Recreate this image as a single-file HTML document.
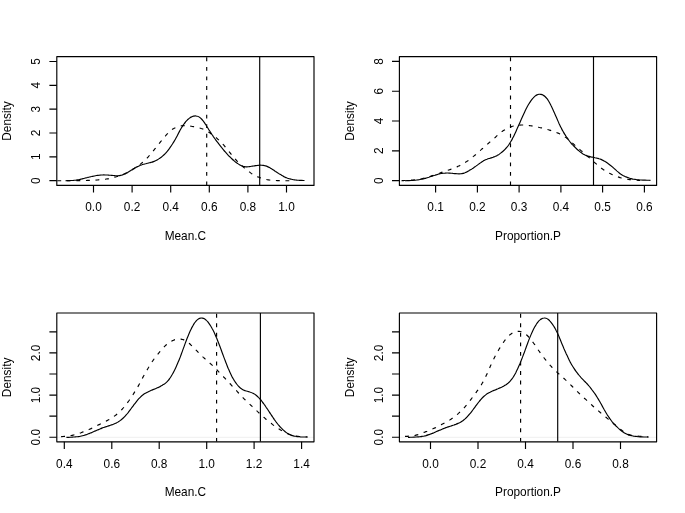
<!DOCTYPE html>
<html lang="en">
<head>
<meta charset="utf-8">
<title>Density plots</title>
<style>
html,body{margin:0;padding:0;background:#fff;}
body{width:685px;height:513px;overflow:hidden;}
svg{display:block;will-change:transform;}
svg text{font-family:"Liberation Sans",Arial,Helvetica,sans-serif;font-size:11.85px;fill:#000;}
.ln{fill:none;stroke:#000;stroke-width:1.15;stroke-linecap:butt;stroke-linejoin:round;}
.ds{stroke-dasharray:3.9 5.65;}
.g0{stroke:#e4e4e4;stroke-width:0.6;fill:none;}
</style>
</head>
<body>
<svg width="685" height="513" viewBox="0 0 685 513">
<rect x="0" y="0" width="685" height="513" fill="#fff"/>
<g id="panel1">
<clipPath id="cp0"><rect x="56.8" y="56.6" width="257.2" height="128.8"/></clipPath>
<g clip-path="url(#cp0)">
<path class="ln" d="M65.5 180.7C65.8 180.7 66.8 180.7 67.5 180.6C68.2 180.6 68.8 180.6 69.5 180.6C70.2 180.6 70.8 180.5 71.5 180.5C72.2 180.5 72.8 180.4 73.5 180.4C74.2 180.3 74.8 180.3 75.5 180.2C76.2 180.1 76.8 180.1 77.5 179.9C78.2 179.8 78.8 179.7 79.5 179.5C80.2 179.4 80.8 179.2 81.5 179.0C82.2 178.9 82.8 178.7 83.5 178.5C84.2 178.3 84.8 178.2 85.5 178.0C86.2 177.8 86.8 177.6 87.5 177.5C88.2 177.3 88.8 177.1 89.5 177.0C90.2 176.8 90.8 176.6 91.5 176.5C92.2 176.3 92.8 176.2 93.5 176.1C94.2 175.9 94.8 175.8 95.5 175.7C96.2 175.6 96.8 175.5 97.5 175.4C98.2 175.3 98.8 175.2 99.5 175.2C100.2 175.1 100.8 175.0 101.5 175.0C102.2 175.0 102.8 174.9 103.5 174.9C104.2 174.9 104.8 174.9 105.5 175.0C106.2 175.0 106.8 175.0 107.5 175.0C108.2 175.1 108.8 175.1 109.5 175.2C110.2 175.2 110.8 175.3 111.5 175.3C112.2 175.4 112.8 175.5 113.5 175.5C114.2 175.6 114.8 175.6 115.5 175.7C116.2 175.7 116.8 175.8 117.5 175.7C118.2 175.7 118.8 175.7 119.5 175.6C120.2 175.5 120.8 175.3 121.5 175.2C122.2 175.0 122.8 174.8 123.5 174.5C124.2 174.2 124.8 173.9 125.5 173.6C126.2 173.3 126.8 172.9 127.5 172.6C128.2 172.2 128.8 171.8 129.5 171.3C130.2 170.9 130.8 170.5 131.5 170.0C132.2 169.6 132.8 169.1 133.5 168.7C134.2 168.3 134.8 167.9 135.5 167.6C136.2 167.2 136.8 166.9 137.5 166.6C138.2 166.3 138.8 166.0 139.5 165.7C140.2 165.4 140.8 165.2 141.5 165.0C142.2 164.7 142.8 164.5 143.5 164.3C144.2 164.1 144.8 163.9 145.5 163.8C146.2 163.6 146.8 163.5 147.5 163.3C148.2 163.1 148.8 163.0 149.5 162.8C150.2 162.7 150.8 162.5 151.5 162.3C152.2 162.1 152.8 161.9 153.5 161.6C154.2 161.4 154.8 161.1 155.5 160.8C156.2 160.5 156.8 160.1 157.5 159.7C158.2 159.3 158.8 158.9 159.5 158.4C160.2 158.0 160.8 157.5 161.5 157.0C162.2 156.4 162.8 155.9 163.5 155.3C164.2 154.7 164.8 154.1 165.5 153.4C166.2 152.6 166.8 151.9 167.5 151.0C168.2 150.2 168.8 149.3 169.5 148.4C170.2 147.4 170.8 146.5 171.5 145.5C172.2 144.5 172.8 143.5 173.5 142.4C174.2 141.3 174.8 140.2 175.5 139.0C176.2 137.8 176.8 136.5 177.5 135.2C178.2 134.0 178.8 132.6 179.5 131.4C180.2 130.2 180.8 129.0 181.5 127.8C182.2 126.7 182.8 125.7 183.5 124.7C184.2 123.7 184.8 122.8 185.5 122.0C186.2 121.2 186.8 120.5 187.5 119.8C188.2 119.2 188.8 118.6 189.5 118.1C190.2 117.6 190.8 117.2 191.5 116.9C192.2 116.5 192.8 116.3 193.5 116.1C194.2 116.0 194.8 115.9 195.5 115.9C196.2 116.0 196.8 116.0 197.5 116.3C198.2 116.5 198.8 116.8 199.5 117.3C200.2 117.7 200.8 118.3 201.5 119.0C202.2 119.7 202.8 120.6 203.5 121.4C204.2 122.3 204.8 123.3 205.5 124.3C206.2 125.4 206.8 126.5 207.5 127.5C208.2 128.6 208.8 129.7 209.5 130.7C210.2 131.8 210.8 132.8 211.5 133.8C212.2 134.8 212.8 135.8 213.5 136.8C214.2 137.7 214.8 138.7 215.5 139.6C216.2 140.5 216.8 141.4 217.5 142.2C218.2 143.1 218.8 144.0 219.5 144.8C220.2 145.7 220.8 146.5 221.5 147.4C222.2 148.2 222.8 149.0 223.5 149.8C224.2 150.7 224.8 151.4 225.5 152.2C226.2 153.0 226.8 153.7 227.5 154.4C228.2 155.2 228.8 155.9 229.5 156.5C230.2 157.2 230.8 157.9 231.5 158.5C232.2 159.1 232.8 159.8 233.5 160.3C234.2 160.9 234.8 161.5 235.5 162.0C236.2 162.5 236.8 163.0 237.5 163.4C238.2 163.9 238.8 164.3 239.5 164.7C240.2 165.1 240.8 165.5 241.5 165.8C242.2 166.1 242.8 166.3 243.5 166.5C244.2 166.6 244.8 166.7 245.5 166.8C246.2 166.8 246.8 166.8 247.5 166.8C248.2 166.7 248.8 166.7 249.5 166.6C250.2 166.5 250.8 166.4 251.5 166.3C252.2 166.2 252.8 166.1 253.5 166.0C254.2 165.9 254.8 165.8 255.5 165.6C256.2 165.5 256.8 165.4 257.5 165.4C258.2 165.3 258.8 165.2 259.5 165.2C260.2 165.1 260.8 165.1 261.5 165.2C262.2 165.2 262.8 165.3 263.5 165.4C264.2 165.5 264.8 165.7 265.5 165.9C266.2 166.1 266.8 166.3 267.5 166.6C268.2 166.9 268.8 167.2 269.5 167.6C270.2 168.0 270.8 168.4 271.5 168.8C272.2 169.2 272.8 169.6 273.5 170.0C274.2 170.5 274.8 170.9 275.5 171.4C276.2 171.8 276.8 172.3 277.5 172.7C278.2 173.1 278.8 173.6 279.5 174.0C280.2 174.4 280.8 174.8 281.5 175.2C282.2 175.6 282.8 176.0 283.5 176.4C284.2 176.7 284.8 177.1 285.5 177.4C286.2 177.7 286.8 177.9 287.5 178.2C288.2 178.4 288.8 178.6 289.5 178.8C290.2 179.0 290.8 179.2 291.5 179.3C292.2 179.5 292.8 179.6 293.5 179.7C294.2 179.8 294.8 179.9 295.5 180.0C296.2 180.1 296.8 180.1 297.5 180.2C298.2 180.2 298.8 180.3 299.5 180.3C300.2 180.3 300.8 180.4 301.5 180.4C302.2 180.4 303.0 180.4 303.5 180.5C304.0 180.5 304.3 180.5 304.5 180.5"/>
<path class="ln ds" d="M57.3 180.7C57.6 180.7 58.6 180.7 59.3 180.7C60.0 180.7 60.6 180.7 61.3 180.7C62.0 180.7 62.6 180.7 63.3 180.7C64.0 180.7 64.6 180.7 65.3 180.7C66.0 180.7 66.6 180.7 67.3 180.7C68.0 180.7 68.6 180.7 69.3 180.7C70.0 180.7 70.6 180.7 71.3 180.7C72.0 180.7 72.6 180.7 73.3 180.7C74.0 180.7 74.6 180.7 75.3 180.7C76.0 180.7 76.6 180.6 77.3 180.6C78.0 180.6 78.6 180.6 79.3 180.6C80.0 180.6 80.6 180.6 81.3 180.6C82.0 180.6 82.6 180.6 83.3 180.5C84.0 180.5 84.6 180.5 85.3 180.5C86.0 180.5 86.6 180.4 87.3 180.4C88.0 180.4 88.6 180.4 89.3 180.3C90.0 180.3 90.6 180.3 91.3 180.3C92.0 180.2 92.6 180.2 93.3 180.2C94.0 180.1 94.6 180.1 95.3 180.1C96.0 180.0 96.6 180.0 97.3 180.0C98.0 179.9 98.6 179.9 99.3 179.8C100.0 179.8 100.6 179.7 101.3 179.7C102.0 179.6 102.6 179.6 103.3 179.5C104.0 179.4 104.6 179.3 105.3 179.2C106.0 179.1 106.6 179.0 107.3 178.9C108.0 178.8 108.6 178.7 109.3 178.5C110.0 178.4 110.6 178.2 111.3 178.1C112.0 177.9 112.6 177.7 113.3 177.5C114.0 177.4 114.6 177.2 115.3 177.0C116.0 176.8 116.6 176.7 117.3 176.5C118.0 176.3 118.6 176.1 119.3 175.9C120.0 175.7 120.6 175.4 121.3 175.2C122.0 175.0 122.6 174.7 123.3 174.4C124.0 174.2 124.6 173.9 125.3 173.6C126.0 173.3 126.6 172.9 127.3 172.6C128.0 172.3 128.6 171.9 129.3 171.5C130.0 171.2 130.6 170.8 131.3 170.4C132.0 170.0 132.6 169.5 133.3 169.1C134.0 168.7 134.6 168.2 135.3 167.8C136.0 167.3 136.6 166.9 137.3 166.4C138.0 165.9 138.6 165.4 139.3 165.0C140.0 164.5 140.6 164.0 141.3 163.4C142.0 162.9 142.6 162.3 143.3 161.7C144.0 161.1 144.6 160.5 145.3 159.9C146.0 159.2 146.6 158.5 147.3 157.8C148.0 157.2 148.6 156.4 149.3 155.7C150.0 154.9 150.6 154.2 151.3 153.4C152.0 152.6 152.6 151.8 153.3 150.9C154.0 150.1 154.6 149.2 155.3 148.4C156.0 147.6 156.6 146.7 157.3 145.9C158.0 145.0 158.6 144.2 159.3 143.3C160.0 142.5 160.6 141.6 161.3 140.8C162.0 139.9 162.6 139.1 163.3 138.3C164.0 137.6 164.6 136.8 165.3 136.1C166.0 135.3 166.6 134.6 167.3 133.9C168.0 133.2 168.6 132.6 169.3 132.0C170.0 131.3 170.6 130.8 171.3 130.2C172.0 129.7 172.6 129.2 173.3 128.8C174.0 128.4 174.6 128.0 175.3 127.7C176.0 127.3 176.6 127.1 177.3 126.8C178.0 126.6 178.6 126.4 179.3 126.2C180.0 126.0 180.6 125.9 181.3 125.8C182.0 125.7 182.6 125.6 183.3 125.6C184.0 125.6 184.6 125.6 185.3 125.6C186.0 125.6 186.6 125.7 187.3 125.7C188.0 125.8 188.6 125.9 189.3 126.0C190.0 126.1 190.6 126.2 191.3 126.3C192.0 126.4 192.6 126.5 193.3 126.6C194.0 126.7 194.6 126.8 195.3 127.0C196.0 127.1 196.6 127.2 197.3 127.4C198.0 127.5 198.6 127.7 199.3 127.9C200.0 128.0 200.6 128.2 201.3 128.5C202.0 128.7 202.6 129.0 203.3 129.3C204.0 129.6 204.6 129.9 205.3 130.2C206.0 130.6 206.6 131.0 207.3 131.4C208.0 131.7 208.6 132.2 209.3 132.6C210.0 133.0 210.6 133.5 211.3 133.9C212.0 134.4 212.6 134.9 213.3 135.4C214.0 135.9 214.6 136.4 215.3 137.0C216.0 137.5 216.6 138.1 217.3 138.7C218.0 139.3 218.6 139.9 219.3 140.5C220.0 141.2 220.6 141.8 221.3 142.5C222.0 143.2 222.6 144.0 223.3 144.7C224.0 145.4 224.6 146.2 225.3 147.0C226.0 147.8 226.6 148.6 227.3 149.4C228.0 150.2 228.6 151.1 229.3 151.9C230.0 152.7 230.6 153.6 231.3 154.4C232.0 155.2 232.6 156.0 233.3 156.8C234.0 157.6 234.6 158.4 235.3 159.1C236.0 159.9 236.6 160.6 237.3 161.3C238.0 162.0 238.6 162.7 239.3 163.3C240.0 164.0 240.6 164.6 241.3 165.2C242.0 165.8 242.6 166.4 243.3 167.0C244.0 167.6 244.6 168.1 245.3 168.7C246.0 169.3 246.6 169.8 247.3 170.4C248.0 170.9 248.6 171.4 249.3 171.9C250.0 172.4 250.6 172.9 251.3 173.4C252.0 173.8 252.6 174.3 253.3 174.6C254.0 175.0 254.6 175.4 255.3 175.7C256.0 176.0 256.6 176.3 257.3 176.6C258.0 176.9 258.6 177.1 259.3 177.4C260.0 177.6 260.6 177.9 261.3 178.1C262.0 178.4 262.6 178.6 263.3 178.8C264.0 179.0 264.6 179.2 265.3 179.3C266.0 179.5 266.6 179.6 267.3 179.7C268.0 179.8 268.6 179.9 269.3 180.0C270.0 180.0 270.6 180.1 271.3 180.2C272.0 180.2 272.6 180.3 273.3 180.3C274.0 180.4 274.6 180.4 275.3 180.5C276.0 180.5 276.6 180.5 277.3 180.6C278.0 180.6 278.6 180.6 279.3 180.6C280.0 180.6 280.6 180.6 281.3 180.6C282.0 180.7 282.6 180.7 283.3 180.7C284.0 180.7 284.6 180.7 285.3 180.7C286.0 180.7 286.6 180.7 287.3 180.7C288.0 180.7 288.6 180.7 289.3 180.7C290.0 180.7 290.9 180.7 291.3 180.7C291.7 180.7 291.7 180.7 291.8 180.7"/>
<path class="ln ds" d="M206.7 185.4 V56.6"/>
<path class="ln" d="M259.7 185.4 V56.6"/>
</g>
<rect class="ln" x="56.8" y="56.6" width="257.2" height="128.8"/>
<path class="ln" d="M93.5 185.4v7.1M132.1 185.4v7.1M170.7 185.4v7.1M209.3 185.4v7.1M247.9 185.4v7.1M286.5 185.4v7.1M56.8 180.6h-7.4M56.8 156.8h-7.4M56.8 133.0h-7.4M56.8 109.1h-7.4M56.8 85.3h-7.4M56.8 61.5h-7.4"/>
<text x="93.5" y="211.3" text-anchor="middle">0.0</text>
<text x="132.1" y="211.3" text-anchor="middle">0.2</text>
<text x="170.7" y="211.3" text-anchor="middle">0.4</text>
<text x="209.3" y="211.3" text-anchor="middle">0.6</text>
<text x="247.9" y="211.3" text-anchor="middle">0.8</text>
<text x="286.5" y="211.3" text-anchor="middle">1.0</text>
<text transform="translate(39.9 180.6) rotate(-90)" text-anchor="middle">0</text>
<text transform="translate(39.9 156.8) rotate(-90)" text-anchor="middle">1</text>
<text transform="translate(39.9 133.0) rotate(-90)" text-anchor="middle">2</text>
<text transform="translate(39.9 109.1) rotate(-90)" text-anchor="middle">3</text>
<text transform="translate(39.9 85.3) rotate(-90)" text-anchor="middle">4</text>
<text transform="translate(39.9 61.5) rotate(-90)" text-anchor="middle">5</text>
<text x="185.4" y="239.5" text-anchor="middle">Mean.C</text>
<text transform="translate(11.4 121.0) rotate(-90)" text-anchor="middle">Density</text>
</g>
<g id="panel2">
<clipPath id="cp1"><rect x="399.4" y="56.6" width="257.2" height="128.8"/></clipPath>
<g clip-path="url(#cp1)">
<path class="ln" d="M405.0 180.7C405.3 180.7 406.3 180.7 407.0 180.6C407.7 180.6 408.3 180.6 409.0 180.6C409.7 180.5 410.3 180.5 411.0 180.5C411.7 180.5 412.3 180.4 413.0 180.4C413.7 180.3 414.3 180.3 415.0 180.2C415.7 180.2 416.3 180.1 417.0 180.0C417.7 179.9 418.3 179.8 419.0 179.7C419.7 179.6 420.3 179.5 421.0 179.3C421.7 179.2 422.3 179.1 423.0 178.9C423.7 178.7 424.3 178.6 425.0 178.4C425.7 178.2 426.3 178.0 427.0 177.8C427.7 177.6 428.3 177.4 429.0 177.2C429.7 176.9 430.3 176.7 431.0 176.5C431.7 176.3 432.3 176.1 433.0 175.8C433.7 175.6 434.3 175.4 435.0 175.2C435.7 175.0 436.3 174.8 437.0 174.6C437.7 174.4 438.3 174.2 439.0 174.0C439.7 173.8 440.3 173.7 441.0 173.5C441.7 173.4 442.3 173.3 443.0 173.2C443.7 173.1 444.3 173.1 445.0 173.1C445.7 173.0 446.3 173.0 447.0 173.0C447.7 173.0 448.3 173.1 449.0 173.1C449.7 173.1 450.3 173.2 451.0 173.2C451.7 173.3 452.3 173.3 453.0 173.4C453.7 173.4 454.3 173.5 455.0 173.6C455.7 173.6 456.3 173.7 457.0 173.7C457.7 173.8 458.3 173.8 459.0 173.8C459.7 173.8 460.3 173.8 461.0 173.7C461.7 173.7 462.3 173.6 463.0 173.4C463.7 173.2 464.3 173.0 465.0 172.8C465.7 172.5 466.3 172.2 467.0 171.9C467.7 171.5 468.3 171.1 469.0 170.7C469.7 170.3 470.3 169.9 471.0 169.5C471.7 169.1 472.3 168.6 473.0 168.2C473.7 167.7 474.3 167.3 475.0 166.8C475.7 166.3 476.3 165.9 477.0 165.4C477.7 164.9 478.3 164.4 479.0 163.9C479.7 163.4 480.3 162.9 481.0 162.5C481.7 162.0 482.3 161.6 483.0 161.2C483.7 160.8 484.3 160.4 485.0 160.0C485.7 159.7 486.3 159.4 487.0 159.2C487.7 158.9 488.3 158.7 489.0 158.5C489.7 158.3 490.3 158.1 491.0 157.9C491.7 157.7 492.3 157.5 493.0 157.3C493.7 157.0 494.3 156.8 495.0 156.5C495.7 156.3 496.3 155.9 497.0 155.6C497.7 155.2 498.3 154.8 499.0 154.4C499.7 153.9 500.3 153.4 501.0 152.9C501.7 152.4 502.3 151.8 503.0 151.2C503.7 150.6 504.3 150.0 505.0 149.3C505.7 148.6 506.3 147.9 507.0 147.1C507.7 146.3 508.3 145.5 509.0 144.5C509.7 143.5 510.3 142.5 511.0 141.3C511.7 140.2 512.3 138.9 513.0 137.6C513.7 136.3 514.3 134.9 515.0 133.5C515.7 132.1 516.3 130.6 517.0 129.1C517.7 127.6 518.3 126.1 519.0 124.6C519.7 123.1 520.3 121.6 521.0 120.0C521.7 118.5 522.3 117.0 523.0 115.5C523.7 114.0 524.3 112.6 525.0 111.2C525.7 109.8 526.3 108.5 527.0 107.2C527.7 106.0 528.3 104.8 529.0 103.7C529.7 102.6 530.3 101.6 531.0 100.6C531.7 99.7 532.3 98.8 533.0 98.1C533.7 97.3 534.3 96.7 535.0 96.1C535.7 95.6 536.3 95.2 537.0 94.9C537.7 94.6 538.3 94.4 539.0 94.3C539.7 94.2 540.3 94.3 541.0 94.4C541.7 94.5 542.3 94.7 543.0 95.1C543.7 95.4 544.3 95.9 545.0 96.5C545.7 97.1 546.3 97.8 547.0 98.7C547.7 99.6 548.3 100.7 549.0 101.8C549.7 103.0 550.3 104.2 551.0 105.6C551.7 106.9 552.3 108.3 553.0 109.7C553.7 111.2 554.3 112.7 555.0 114.2C555.7 115.7 556.3 117.3 557.0 118.8C557.7 120.3 558.3 121.9 559.0 123.4C559.7 124.8 560.3 126.3 561.0 127.6C561.7 128.9 562.3 130.2 563.0 131.3C563.7 132.5 564.3 133.6 565.0 134.7C565.7 135.7 566.3 136.8 567.0 137.7C567.7 138.7 568.3 139.6 569.0 140.5C569.7 141.4 570.3 142.2 571.0 143.0C571.7 143.8 572.3 144.5 573.0 145.2C573.7 145.9 574.3 146.6 575.0 147.3C575.7 147.9 576.3 148.6 577.0 149.2C577.7 149.8 578.3 150.4 579.0 150.9C579.7 151.5 580.3 152.0 581.0 152.5C581.7 153.0 582.3 153.4 583.0 153.9C583.7 154.3 584.3 154.6 585.0 155.0C585.7 155.3 586.3 155.5 587.0 155.8C587.7 156.0 588.3 156.2 589.0 156.4C589.7 156.6 590.3 156.7 591.0 156.9C591.7 157.0 592.3 157.2 593.0 157.3C593.7 157.4 594.3 157.5 595.0 157.7C595.7 157.8 596.3 157.9 597.0 158.1C597.7 158.2 598.3 158.4 599.0 158.7C599.7 158.9 600.3 159.1 601.0 159.4C601.7 159.7 602.3 160.0 603.0 160.4C603.7 160.7 604.3 161.1 605.0 161.4C605.7 161.8 606.3 162.3 607.0 162.7C607.7 163.2 608.3 163.7 609.0 164.2C609.7 164.7 610.3 165.2 611.0 165.8C611.7 166.3 612.3 166.9 613.0 167.5C613.7 168.1 614.3 168.7 615.0 169.3C615.7 169.9 616.3 170.5 617.0 171.1C617.7 171.6 618.3 172.2 619.0 172.7C619.7 173.3 620.3 173.8 621.0 174.3C621.7 174.7 622.3 175.1 623.0 175.5C623.7 175.8 624.3 176.2 625.0 176.5C625.7 176.8 626.3 177.0 627.0 177.3C627.7 177.6 628.3 177.8 629.0 178.0C629.7 178.3 630.3 178.4 631.0 178.6C631.7 178.8 632.3 178.9 633.0 179.1C633.7 179.2 634.3 179.3 635.0 179.4C635.7 179.5 636.3 179.6 637.0 179.7C637.7 179.8 638.3 179.8 639.0 179.9C639.7 179.9 640.3 179.9 641.0 180.0C641.7 180.0 642.3 180.0 643.0 180.1C643.7 180.1 644.3 180.1 645.0 180.1C645.7 180.2 646.3 180.2 647.0 180.2C647.7 180.2 648.4 180.2 649.0 180.2C649.6 180.3 650.2 180.3 650.5 180.3"/>
<path class="ln ds" d="M401.5 180.7C401.8 180.7 402.8 180.6 403.5 180.6C404.2 180.6 404.8 180.5 405.5 180.5C406.2 180.5 406.8 180.4 407.5 180.4C408.2 180.3 408.8 180.3 409.5 180.3C410.2 180.2 410.8 180.2 411.5 180.1C412.2 180.1 412.8 180.0 413.5 180.0C414.2 179.9 414.8 179.9 415.5 179.8C416.2 179.7 416.8 179.6 417.5 179.5C418.2 179.4 418.8 179.3 419.5 179.2C420.2 179.1 420.8 178.9 421.5 178.8C422.2 178.6 422.8 178.5 423.5 178.3C424.2 178.1 424.8 177.9 425.5 177.8C426.2 177.6 426.8 177.4 427.5 177.2C428.2 177.0 428.8 176.8 429.5 176.6C430.2 176.4 430.8 176.1 431.5 175.9C432.2 175.7 432.8 175.5 433.5 175.3C434.2 175.0 434.8 174.8 435.5 174.6C436.2 174.3 436.8 174.1 437.5 173.9C438.2 173.6 438.8 173.4 439.5 173.2C440.2 172.9 440.8 172.7 441.5 172.4C442.2 172.2 442.8 172.0 443.5 171.8C444.2 171.5 444.8 171.3 445.5 171.1C446.2 170.8 446.8 170.6 447.5 170.4C448.2 170.2 448.8 169.9 449.5 169.7C450.2 169.5 450.8 169.2 451.5 169.0C452.2 168.7 452.8 168.5 453.5 168.2C454.2 168.0 454.8 167.7 455.5 167.5C456.2 167.2 456.8 166.9 457.5 166.6C458.2 166.4 458.8 166.0 459.5 165.7C460.2 165.4 460.8 165.0 461.5 164.7C462.2 164.3 462.8 163.9 463.5 163.5C464.2 163.1 464.8 162.7 465.5 162.3C466.2 161.9 466.8 161.4 467.5 161.0C468.2 160.5 468.8 160.0 469.5 159.5C470.2 159.0 470.8 158.5 471.5 158.0C472.2 157.5 472.8 156.9 473.5 156.4C474.2 155.8 474.8 155.2 475.5 154.7C476.2 154.1 476.8 153.5 477.5 153.0C478.2 152.4 478.8 151.8 479.5 151.2C480.2 150.6 480.8 150.0 481.5 149.4C482.2 148.8 482.8 148.2 483.5 147.6C484.2 147.0 484.8 146.4 485.5 145.8C486.2 145.2 486.8 144.6 487.5 144.1C488.2 143.5 488.8 143.0 489.5 142.4C490.2 141.8 490.8 141.3 491.5 140.7C492.2 140.2 492.8 139.6 493.5 139.0C494.2 138.4 494.8 137.8 495.5 137.2C496.2 136.6 496.8 136.0 497.5 135.3C498.2 134.7 498.8 134.1 499.5 133.5C500.2 133.0 500.8 132.4 501.5 131.9C502.2 131.5 502.8 131.0 503.5 130.6C504.2 130.2 504.8 129.8 505.5 129.4C506.2 129.0 506.8 128.7 507.5 128.3C508.2 128.0 508.8 127.7 509.5 127.4C510.2 127.1 510.8 126.9 511.5 126.6C512.2 126.4 512.8 126.2 513.5 126.0C514.2 125.9 514.8 125.7 515.5 125.6C516.2 125.5 516.8 125.4 517.5 125.3C518.2 125.2 518.8 125.1 519.5 125.1C520.2 125.0 520.8 125.0 521.5 125.0C522.2 125.0 522.8 125.0 523.5 125.0C524.2 125.0 524.8 125.1 525.5 125.1C526.2 125.2 526.8 125.2 527.5 125.3C528.2 125.4 528.8 125.5 529.5 125.6C530.2 125.7 530.8 125.8 531.5 125.9C532.2 126.0 532.8 126.1 533.5 126.2C534.2 126.4 534.8 126.5 535.5 126.6C536.2 126.8 536.8 126.9 537.5 127.0C538.2 127.2 538.8 127.3 539.5 127.5C540.2 127.6 540.8 127.8 541.5 127.9C542.2 128.1 542.8 128.3 543.5 128.4C544.2 128.6 544.8 128.8 545.5 129.0C546.2 129.2 546.8 129.3 547.5 129.5C548.2 129.7 548.8 129.9 549.5 130.1C550.2 130.3 550.8 130.5 551.5 130.7C552.2 130.9 552.8 131.1 553.5 131.3C554.2 131.6 554.8 131.8 555.5 132.1C556.2 132.3 556.8 132.6 557.5 132.9C558.2 133.1 558.8 133.4 559.5 133.7C560.2 134.1 560.8 134.4 561.5 134.8C562.2 135.1 562.8 135.5 563.5 136.0C564.2 136.4 564.8 136.8 565.5 137.3C566.2 137.7 566.8 138.2 567.5 138.7C568.2 139.2 568.8 139.8 569.5 140.4C570.2 140.9 570.8 141.6 571.5 142.2C572.2 142.8 572.8 143.4 573.5 144.0C574.2 144.6 574.8 145.2 575.5 145.8C576.2 146.4 576.8 147.0 577.5 147.6C578.2 148.1 578.8 148.7 579.5 149.3C580.2 149.9 580.8 150.5 581.5 151.0C582.2 151.6 582.8 152.2 583.5 152.8C584.2 153.4 584.8 153.9 585.5 154.5C586.2 155.1 586.8 155.7 587.5 156.3C588.2 156.8 588.8 157.4 589.5 158.0C590.2 158.6 590.8 159.2 591.5 159.8C592.2 160.3 592.8 160.9 593.5 161.5C594.2 162.1 594.8 162.7 595.5 163.2C596.2 163.8 596.8 164.4 597.5 165.0C598.2 165.5 598.8 166.1 599.5 166.7C600.2 167.2 600.8 167.8 601.5 168.3C602.2 168.8 602.8 169.3 603.5 169.7C604.2 170.2 604.8 170.6 605.5 171.1C606.2 171.5 606.8 171.9 607.5 172.2C608.2 172.6 608.8 173.0 609.5 173.3C610.2 173.7 610.8 174.0 611.5 174.3C612.2 174.6 612.8 174.9 613.5 175.2C614.2 175.5 614.8 175.7 615.5 176.0C616.2 176.3 616.8 176.5 617.5 176.7C618.2 177.0 618.8 177.2 619.5 177.4C620.2 177.6 620.8 177.8 621.5 178.0C622.2 178.2 622.8 178.3 623.5 178.5C624.2 178.7 624.8 178.8 625.5 179.0C626.2 179.1 626.8 179.2 627.5 179.3C628.2 179.4 628.8 179.5 629.5 179.6C630.2 179.7 630.8 179.8 631.5 179.8C632.2 179.9 632.8 180.0 633.5 180.0C634.2 180.1 634.8 180.1 635.5 180.2C636.2 180.2 636.8 180.2 637.5 180.3C638.2 180.3 639.1 180.3 639.5 180.3C639.9 180.4 639.9 180.4 640.0 180.4"/>
<path class="ln ds" d="M510.5 185.4 V56.6"/>
<path class="ln" d="M593.5 185.4 V56.6"/>
</g>
<rect class="ln" x="399.4" y="56.6" width="257.2" height="128.8"/>
<path class="ln" d="M435.6 185.4v7.1M477.4 185.4v7.1M519.1 185.4v7.1M560.9 185.4v7.1M602.6 185.4v7.1M644.4 185.4v7.1M399.4 180.6h-7.4M399.4 150.8h-7.4M399.4 121.0h-7.4M399.4 91.2h-7.4M399.4 61.4h-7.4"/>
<text x="435.6" y="211.3" text-anchor="middle">0.1</text>
<text x="477.4" y="211.3" text-anchor="middle">0.2</text>
<text x="519.1" y="211.3" text-anchor="middle">0.3</text>
<text x="560.9" y="211.3" text-anchor="middle">0.4</text>
<text x="602.6" y="211.3" text-anchor="middle">0.5</text>
<text x="644.4" y="211.3" text-anchor="middle">0.6</text>
<text transform="translate(382.5 180.6) rotate(-90)" text-anchor="middle">0</text>
<text transform="translate(382.5 150.8) rotate(-90)" text-anchor="middle">2</text>
<text transform="translate(382.5 121.0) rotate(-90)" text-anchor="middle">4</text>
<text transform="translate(382.5 91.2) rotate(-90)" text-anchor="middle">6</text>
<text transform="translate(382.5 61.4) rotate(-90)" text-anchor="middle">8</text>
<text x="528.0" y="239.5" text-anchor="middle">Proportion.P</text>
<text transform="translate(354.0 121.0) rotate(-90)" text-anchor="middle">Density</text>
</g>
<g id="panel3">
<clipPath id="cp2"><rect x="56.8" y="313.0" width="257.2" height="128.8"/></clipPath>
<path class="g0" d="M56.8 437.3 H314.0"/>
<g clip-path="url(#cp2)">
<path class="ln" d="M66.4 437.4C66.7 437.4 67.7 437.3 68.4 437.3C69.1 437.3 69.7 437.3 70.4 437.2C71.1 437.2 71.7 437.2 72.4 437.1C73.1 437.1 73.7 437.0 74.4 437.0C75.1 436.9 75.7 436.9 76.4 436.8C77.1 436.7 77.7 436.7 78.4 436.6C79.1 436.5 79.7 436.4 80.4 436.2C81.1 436.1 81.7 436.0 82.4 435.8C83.1 435.6 83.7 435.4 84.4 435.2C85.1 435.0 85.7 434.8 86.4 434.6C87.1 434.3 87.7 434.1 88.4 433.8C89.1 433.6 89.7 433.3 90.4 433.0C91.1 432.8 91.7 432.5 92.4 432.2C93.1 431.9 93.7 431.6 94.4 431.3C95.1 431.0 95.7 430.8 96.4 430.5C97.1 430.2 97.7 429.9 98.4 429.6C99.1 429.3 99.7 429.0 100.4 428.7C101.1 428.5 101.7 428.2 102.4 427.9C103.1 427.7 103.7 427.4 104.4 427.2C105.1 427.0 105.7 426.8 106.4 426.6C107.1 426.4 107.7 426.1 108.4 425.9C109.1 425.7 109.7 425.5 110.4 425.3C111.1 425.0 111.7 424.8 112.4 424.6C113.1 424.3 113.7 424.1 114.4 423.8C115.1 423.5 115.7 423.3 116.4 422.9C117.1 422.6 117.7 422.2 118.4 421.8C119.1 421.4 119.7 421.0 120.4 420.4C121.1 419.9 121.7 419.4 122.4 418.8C123.1 418.2 123.7 417.6 124.4 416.9C125.1 416.2 125.7 415.5 126.4 414.7C127.1 413.9 127.7 413.1 128.4 412.3C129.1 411.4 129.7 410.5 130.4 409.6C131.1 408.7 131.7 407.8 132.4 406.9C133.1 406.0 133.7 405.1 134.4 404.2C135.1 403.4 135.7 402.5 136.4 401.6C137.1 400.8 137.7 400.0 138.4 399.2C139.1 398.5 139.7 397.8 140.4 397.1C141.1 396.4 141.7 395.8 142.4 395.3C143.1 394.7 143.7 394.3 144.4 393.8C145.1 393.4 145.7 393.1 146.4 392.7C147.1 392.4 147.7 392.0 148.4 391.7C149.1 391.4 149.7 391.1 150.4 390.8C151.1 390.5 151.7 390.2 152.4 389.9C153.1 389.7 153.7 389.4 154.4 389.1C155.1 388.8 155.7 388.6 156.4 388.3C157.1 388.0 157.7 387.7 158.4 387.4C159.1 387.1 159.7 386.7 160.4 386.4C161.1 386.0 161.7 385.6 162.4 385.2C163.1 384.8 163.7 384.4 164.4 384.0C165.1 383.5 165.7 383.0 166.4 382.4C167.1 381.8 167.7 381.1 168.4 380.3C169.1 379.5 169.7 378.5 170.4 377.5C171.1 376.5 171.7 375.4 172.4 374.3C173.1 373.1 173.7 371.9 174.4 370.5C175.1 369.2 175.7 367.8 176.4 366.3C177.1 364.8 177.7 363.2 178.4 361.6C179.1 360.0 179.7 358.3 180.4 356.6C181.1 354.8 181.7 353.0 182.4 351.1C183.1 349.3 183.7 347.4 184.4 345.6C185.1 343.8 185.7 341.9 186.4 340.2C187.1 338.5 187.7 336.8 188.4 335.2C189.1 333.6 189.7 332.0 190.4 330.6C191.1 329.2 191.7 327.8 192.4 326.6C193.1 325.4 193.7 324.2 194.4 323.2C195.1 322.3 195.7 321.4 196.4 320.6C197.1 319.9 197.7 319.3 198.4 318.9C199.1 318.5 199.7 318.2 200.4 318.1C201.1 317.9 201.7 318.0 202.4 318.1C203.1 318.2 203.7 318.4 204.4 318.8C205.1 319.2 205.7 319.7 206.4 320.4C207.1 321.0 207.7 321.8 208.4 322.6C209.1 323.5 209.7 324.5 210.4 325.5C211.1 326.6 211.7 327.7 212.4 329.0C213.1 330.2 213.7 331.6 214.4 333.0C215.1 334.4 215.7 336.0 216.4 337.6C217.1 339.1 217.7 340.8 218.4 342.5C219.1 344.2 219.7 346.0 220.4 347.8C221.1 349.5 221.7 351.4 222.4 353.2C223.1 355.0 223.7 356.9 224.4 358.6C225.1 360.4 225.7 362.2 226.4 363.8C227.1 365.5 227.7 367.2 228.4 368.8C229.1 370.3 229.7 371.9 230.4 373.3C231.1 374.7 231.7 376.1 232.4 377.4C233.1 378.6 233.7 379.8 234.4 380.8C235.1 381.9 235.7 382.8 236.4 383.7C237.1 384.6 237.7 385.4 238.4 386.1C239.1 386.8 239.7 387.4 240.4 388.0C241.1 388.5 241.7 389.0 242.4 389.4C243.1 389.8 243.7 390.1 244.4 390.4C245.1 390.6 245.7 390.8 246.4 391.0C247.1 391.2 247.7 391.4 248.4 391.6C249.1 391.8 249.7 391.9 250.4 392.2C251.1 392.4 251.7 392.6 252.4 393.0C253.1 393.3 253.7 393.6 254.4 394.1C255.1 394.5 255.7 395.0 256.4 395.5C257.1 396.1 257.7 396.7 258.4 397.4C259.1 398.0 259.7 398.7 260.4 399.5C261.1 400.3 261.7 401.1 262.4 402.0C263.1 402.8 263.7 403.7 264.4 404.7C265.1 405.6 265.7 406.6 266.4 407.6C267.1 408.5 267.7 409.6 268.4 410.6C269.1 411.6 269.7 412.6 270.4 413.6C271.1 414.6 271.7 415.6 272.4 416.6C273.1 417.6 273.7 418.6 274.4 419.6C275.1 420.5 275.7 421.5 276.4 422.3C277.1 423.2 277.7 424.1 278.4 424.9C279.1 425.6 279.7 426.4 280.4 427.1C281.1 427.8 281.7 428.5 282.4 429.2C283.1 429.8 283.7 430.4 284.4 431.0C285.1 431.6 285.7 432.1 286.4 432.6C287.1 433.1 287.7 433.5 288.4 433.9C289.1 434.3 289.7 434.6 290.4 434.9C291.1 435.2 291.7 435.4 292.4 435.6C293.1 435.8 293.7 435.9 294.4 436.1C295.1 436.2 295.7 436.3 296.4 436.4C297.1 436.6 297.7 436.6 298.4 436.7C299.1 436.8 299.7 436.8 300.4 436.9C301.1 436.9 301.7 436.9 302.4 437.0C303.1 437.0 303.7 437.0 304.4 437.0C305.1 437.0 305.8 437.0 306.4 437.0C307.0 437.0 307.6 437.0 307.9 437.0"/>
<path class="ln ds" d="M61.1 436.6C61.4 436.6 62.4 436.5 63.1 436.5C63.8 436.4 64.4 436.4 65.1 436.3C65.8 436.2 66.4 436.1 67.1 436.1C67.8 436.0 68.4 435.9 69.1 435.8C69.8 435.7 70.4 435.6 71.1 435.5C71.8 435.4 72.4 435.3 73.1 435.1C73.8 435.0 74.4 434.8 75.1 434.6C75.8 434.5 76.4 434.3 77.1 434.0C77.8 433.8 78.4 433.6 79.1 433.4C79.8 433.1 80.4 432.9 81.1 432.7C81.8 432.4 82.4 432.2 83.1 431.9C83.8 431.7 84.4 431.4 85.1 431.2C85.8 430.9 86.4 430.7 87.1 430.4C87.8 430.1 88.4 429.8 89.1 429.5C89.8 429.2 90.4 428.9 91.1 428.6C91.8 428.3 92.4 428.0 93.1 427.6C93.8 427.3 94.4 427.0 95.1 426.6C95.8 426.3 96.4 426.0 97.1 425.6C97.8 425.3 98.4 424.9 99.1 424.6C99.8 424.3 100.4 424.0 101.1 423.6C101.8 423.3 102.4 423.0 103.1 422.7C103.8 422.3 104.4 422.0 105.1 421.7C105.8 421.3 106.4 421.0 107.1 420.6C107.8 420.3 108.4 419.9 109.1 419.5C109.8 419.2 110.4 418.8 111.1 418.3C111.8 417.9 112.4 417.5 113.1 417.0C113.8 416.6 114.4 416.1 115.1 415.6C115.8 415.1 116.4 414.6 117.1 414.0C117.8 413.4 118.4 412.9 119.1 412.3C119.8 411.7 120.4 411.0 121.1 410.3C121.8 409.7 122.4 408.9 123.1 408.2C123.8 407.4 124.4 406.6 125.1 405.8C125.8 404.9 126.4 404.1 127.1 403.2C127.8 402.3 128.4 401.4 129.1 400.5C129.8 399.5 130.4 398.6 131.1 397.6C131.8 396.6 132.4 395.5 133.1 394.5C133.8 393.4 134.4 392.4 135.1 391.3C135.8 390.2 136.4 389.1 137.1 388.0C137.8 386.9 138.4 385.8 139.1 384.5C139.8 383.3 140.4 382.0 141.1 380.7C141.8 379.5 142.4 378.1 143.1 376.9C143.8 375.6 144.4 374.4 145.1 373.3C145.8 372.1 146.4 371.0 147.1 369.9C147.8 368.8 148.4 367.7 149.1 366.6C149.8 365.5 150.4 364.4 151.1 363.3C151.8 362.3 152.4 361.3 153.1 360.3C153.8 359.3 154.4 358.5 155.1 357.6C155.8 356.7 156.4 355.9 157.1 355.0C157.8 354.2 158.4 353.4 159.1 352.6C159.8 351.8 160.4 351.0 161.1 350.2C161.8 349.5 162.4 348.7 163.1 348.0C163.8 347.3 164.4 346.6 165.1 345.9C165.8 345.3 166.4 344.7 167.1 344.1C167.8 343.6 168.4 343.0 169.1 342.6C169.8 342.1 170.4 341.7 171.1 341.3C171.8 341.0 172.4 340.6 173.1 340.4C173.8 340.1 174.4 339.8 175.1 339.6C175.8 339.4 176.4 339.3 177.1 339.2C177.8 339.0 178.4 338.9 179.1 338.9C179.8 338.9 180.4 339.0 181.1 339.1C181.8 339.2 182.4 339.4 183.1 339.6C183.8 339.8 184.4 340.1 185.1 340.5C185.8 340.9 186.4 341.3 187.1 341.8C187.8 342.2 188.4 342.8 189.1 343.3C189.8 343.9 190.4 344.5 191.1 345.2C191.8 345.8 192.4 346.5 193.1 347.2C193.8 347.8 194.4 348.5 195.1 349.2C195.8 349.9 196.4 350.5 197.1 351.2C197.8 351.9 198.4 352.6 199.1 353.2C199.8 353.9 200.4 354.5 201.1 355.2C201.8 355.8 202.4 356.4 203.1 357.1C203.8 357.7 204.4 358.3 205.1 358.9C205.8 359.5 206.4 360.1 207.1 360.7C207.8 361.2 208.4 361.8 209.1 362.4C209.8 363.0 210.4 363.6 211.1 364.2C211.8 364.8 212.4 365.4 213.1 366.0C213.8 366.6 214.4 367.3 215.1 368.0C215.8 368.6 216.4 369.3 217.1 370.0C217.8 370.7 218.4 371.5 219.1 372.2C219.8 372.9 220.4 373.6 221.1 374.3C221.8 375.0 222.4 375.7 223.1 376.4C223.8 377.1 224.4 377.8 225.1 378.5C225.8 379.2 226.4 379.9 227.1 380.5C227.8 381.2 228.4 381.9 229.1 382.7C229.8 383.4 230.4 384.1 231.1 384.8C231.8 385.6 232.4 386.3 233.1 387.0C233.8 387.8 234.4 388.5 235.1 389.2C235.8 390.0 236.4 390.7 237.1 391.4C237.8 392.1 238.4 392.9 239.1 393.6C239.8 394.3 240.4 395.0 241.1 395.7C241.8 396.4 242.4 397.1 243.1 397.8C243.8 398.5 244.4 399.1 245.1 399.8C245.8 400.4 246.4 401.1 247.1 401.7C247.8 402.4 248.4 403.0 249.1 403.6C249.8 404.3 250.4 404.9 251.1 405.5C251.8 406.1 252.4 406.8 253.1 407.4C253.8 408.0 254.4 408.6 255.1 409.2C255.8 409.8 256.4 410.5 257.1 411.1C257.8 411.7 258.4 412.4 259.1 413.0C259.8 413.6 260.4 414.2 261.1 414.9C261.8 415.5 262.4 416.1 263.1 416.7C263.8 417.3 264.4 417.8 265.1 418.4C265.8 419.0 266.4 419.6 267.1 420.1C267.8 420.7 268.4 421.2 269.1 421.8C269.8 422.3 270.4 422.8 271.1 423.3C271.8 423.8 272.4 424.4 273.1 424.9C273.8 425.3 274.4 425.8 275.1 426.3C275.8 426.8 276.4 427.3 277.1 427.7C277.8 428.2 278.4 428.6 279.1 429.1C279.8 429.5 280.4 429.9 281.1 430.3C281.8 430.7 282.4 431.1 283.1 431.4C283.8 431.8 284.4 432.1 285.1 432.4C285.8 432.8 286.4 433.1 287.1 433.4C287.8 433.7 288.4 433.9 289.1 434.2C289.8 434.5 290.4 434.7 291.1 434.9C291.8 435.2 292.4 435.4 293.1 435.5C293.8 435.7 294.4 435.8 295.1 436.0C295.8 436.1 296.4 436.2 297.1 436.3C297.8 436.4 298.4 436.4 299.1 436.5C299.8 436.5 300.4 436.6 301.1 436.6C301.8 436.7 302.4 436.7 303.1 436.8C303.8 436.8 304.5 436.8 305.1 436.9C305.7 436.9 306.6 436.9 306.9 436.9"/>
<path class="ln ds" d="M216.6 441.8 V313.0"/>
<path class="ln" d="M260.4 441.8 V313.0"/>
</g>
<rect class="ln" x="56.8" y="313.0" width="257.2" height="128.8"/>
<path class="ln" d="M64.3 441.8v7.1M111.8 441.8v7.1M159.2 441.8v7.1M206.7 441.8v7.1M254.1 441.8v7.1M301.6 441.8v7.1M56.8 437.2h-7.4M56.8 416.1h-7.4M56.8 395.1h-7.4M56.8 374.0h-7.4M56.8 352.9h-7.4M56.8 331.8h-7.4"/>
<text x="64.3" y="467.7" text-anchor="middle">0.4</text>
<text x="111.8" y="467.7" text-anchor="middle">0.6</text>
<text x="159.2" y="467.7" text-anchor="middle">0.8</text>
<text x="206.7" y="467.7" text-anchor="middle">1.0</text>
<text x="254.1" y="467.7" text-anchor="middle">1.2</text>
<text x="301.6" y="467.7" text-anchor="middle">1.4</text>
<text transform="translate(39.9 437.2) rotate(-90)" text-anchor="middle">0.0</text>
<text transform="translate(39.9 395.1) rotate(-90)" text-anchor="middle">1.0</text>
<text transform="translate(39.9 352.9) rotate(-90)" text-anchor="middle">2.0</text>
<text x="185.4" y="495.9" text-anchor="middle">Mean.C</text>
<text transform="translate(11.4 377.4) rotate(-90)" text-anchor="middle">Density</text>
</g>
<g id="panel4">
<clipPath id="cp3"><rect x="399.4" y="313.0" width="257.2" height="128.8"/></clipPath>
<path class="g0" d="M399.4 437.3 H656.6"/>
<g clip-path="url(#cp3)">
<path class="ln" d="M408.0 437.3C408.3 437.3 409.3 437.3 410.0 437.3C410.7 437.2 411.3 437.2 412.0 437.2C412.7 437.2 413.3 437.2 414.0 437.1C414.7 437.1 415.3 437.1 416.0 437.0C416.7 437.0 417.3 437.0 418.0 436.9C418.7 436.9 419.3 436.8 420.0 436.7C420.7 436.6 421.3 436.6 422.0 436.4C422.7 436.3 423.3 436.2 424.0 436.1C424.7 435.9 425.3 435.7 426.0 435.6C426.7 435.4 427.3 435.2 428.0 434.9C428.7 434.7 429.3 434.5 430.0 434.2C430.7 434.0 431.3 433.8 432.0 433.5C432.7 433.2 433.3 433.0 434.0 432.7C434.7 432.4 435.3 432.1 436.0 431.8C436.7 431.5 437.3 431.2 438.0 430.9C438.7 430.7 439.3 430.4 440.0 430.1C440.7 429.8 441.3 429.5 442.0 429.2C442.7 428.9 443.3 428.6 444.0 428.4C444.7 428.1 445.3 427.8 446.0 427.6C446.7 427.4 447.3 427.1 448.0 426.9C448.7 426.7 449.3 426.5 450.0 426.3C450.7 426.1 451.3 425.8 452.0 425.6C452.7 425.4 453.3 425.2 454.0 425.0C454.7 424.7 455.3 424.5 456.0 424.2C456.7 424.0 457.3 423.7 458.0 423.4C458.7 423.1 459.3 422.8 460.0 422.5C460.7 422.1 461.3 421.7 462.0 421.2C462.7 420.8 463.3 420.3 464.0 419.7C464.7 419.2 465.3 418.6 466.0 418.0C466.7 417.3 467.3 416.7 468.0 415.9C468.7 415.2 469.3 414.4 470.0 413.6C470.7 412.8 471.3 412.0 472.0 411.1C472.7 410.2 473.3 409.3 474.0 408.4C474.7 407.5 475.3 406.6 476.0 405.7C476.7 404.8 477.3 403.9 478.0 403.0C478.7 402.2 479.3 401.3 480.0 400.5C480.7 399.7 481.3 399.0 482.0 398.2C482.7 397.5 483.3 396.8 484.0 396.2C484.7 395.6 485.3 395.1 486.0 394.6C486.7 394.1 487.3 393.7 488.0 393.3C488.7 392.9 489.3 392.6 490.0 392.3C490.7 391.9 491.3 391.6 492.0 391.3C492.7 391.0 493.3 390.7 494.0 390.4C494.7 390.1 495.3 389.8 496.0 389.6C496.7 389.3 497.3 389.0 498.0 388.8C498.7 388.5 499.3 388.2 500.0 387.9C500.7 387.6 501.3 387.3 502.0 387.0C502.7 386.6 503.3 386.3 504.0 385.9C504.7 385.5 505.3 385.1 506.0 384.7C506.7 384.2 507.3 383.7 508.0 383.2C508.7 382.6 509.3 382.0 510.0 381.3C510.7 380.6 511.3 379.8 512.0 378.9C512.7 378.0 513.3 377.0 514.0 375.9C514.7 374.8 515.3 373.6 516.0 372.3C516.7 370.9 517.3 369.5 518.0 368.0C518.7 366.5 519.3 364.9 520.0 363.4C520.7 361.8 521.3 360.1 522.0 358.5C522.7 356.8 523.3 355.0 524.0 353.3C524.7 351.5 525.3 349.6 526.0 347.7C526.7 345.9 527.3 344.0 528.0 342.2C528.7 340.5 529.3 338.8 530.0 337.1C530.7 335.5 531.3 333.9 532.0 332.4C532.7 330.9 533.3 329.5 534.0 328.2C534.7 327.0 535.3 325.8 536.0 324.8C536.7 323.7 537.3 322.8 538.0 322.0C538.7 321.1 539.3 320.4 540.0 319.9C540.7 319.3 541.3 318.9 542.0 318.6C542.7 318.2 543.3 318.0 544.0 318.0C544.7 317.9 545.3 318.0 546.0 318.2C546.7 318.4 547.3 318.7 548.0 319.2C548.7 319.7 549.3 320.3 550.0 321.1C550.7 321.8 551.3 322.7 552.0 323.6C552.7 324.5 553.3 325.5 554.0 326.6C554.7 327.7 555.3 328.9 556.0 330.2C556.7 331.4 557.3 332.8 558.0 334.3C558.7 335.8 559.3 337.4 560.0 339.0C560.7 340.6 561.3 342.3 562.0 343.9C562.7 345.5 563.3 347.1 564.0 348.7C564.7 350.2 565.3 351.7 566.0 353.2C566.7 354.6 567.3 356.1 568.0 357.5C568.7 358.9 569.3 360.3 570.0 361.6C570.7 362.8 571.3 364.1 572.0 365.2C572.7 366.4 573.3 367.4 574.0 368.4C574.7 369.5 575.3 370.4 576.0 371.3C576.7 372.2 577.3 373.1 578.0 374.0C578.7 374.8 579.3 375.7 580.0 376.4C580.7 377.2 581.3 378.0 582.0 378.7C582.7 379.4 583.3 380.0 584.0 380.7C584.7 381.3 585.3 382.0 586.0 382.7C586.7 383.4 587.3 384.1 588.0 384.8C588.7 385.6 589.3 386.4 590.0 387.2C590.7 388.0 591.3 388.9 592.0 389.8C592.7 390.6 593.3 391.6 594.0 392.5C594.7 393.5 595.3 394.4 596.0 395.4C596.7 396.5 597.3 397.5 598.0 398.6C598.7 399.7 599.3 400.8 600.0 402.0C600.7 403.2 601.3 404.4 602.0 405.6C602.7 406.8 603.3 408.1 604.0 409.3C604.7 410.4 605.3 411.6 606.0 412.7C606.7 413.8 607.3 414.9 608.0 415.9C608.7 416.9 609.3 417.9 610.0 418.9C610.7 419.8 611.3 420.7 612.0 421.6C612.7 422.4 613.3 423.2 614.0 424.0C614.7 424.7 615.3 425.4 616.0 426.0C616.7 426.7 617.3 427.2 618.0 427.9C618.7 428.5 619.3 429.1 620.0 429.7C620.7 430.2 621.3 430.8 622.0 431.3C622.7 431.8 623.3 432.3 624.0 432.7C624.7 433.1 625.3 433.4 626.0 433.7C626.7 434.1 627.3 434.4 628.0 434.6C628.7 434.9 629.3 435.1 630.0 435.3C630.7 435.5 631.3 435.7 632.0 435.8C632.7 435.9 633.3 436.1 634.0 436.2C634.7 436.3 635.3 436.4 636.0 436.4C636.7 436.5 637.3 436.6 638.0 436.7C638.7 436.7 639.3 436.8 640.0 436.8C640.7 436.9 641.3 436.9 642.0 436.9C642.7 437.0 643.3 437.0 644.0 437.0C644.7 437.0 645.3 437.0 646.0 437.0C646.7 437.0 647.5 437.0 648.0 437.0C648.5 437.0 648.6 437.0 648.8 437.0"/>
<path class="ln ds" d="M405.0 436.4C405.3 436.4 406.3 436.4 407.0 436.3C407.7 436.3 408.3 436.2 409.0 436.1C409.7 436.1 410.3 436.0 411.0 435.9C411.7 435.9 412.3 435.8 413.0 435.7C413.7 435.6 414.3 435.5 415.0 435.4C415.7 435.2 416.3 435.1 417.0 434.9C417.7 434.7 418.3 434.5 419.0 434.3C419.7 434.0 420.3 433.8 421.0 433.6C421.7 433.3 422.3 433.1 423.0 432.8C423.7 432.5 424.3 432.3 425.0 432.0C425.7 431.8 426.3 431.5 427.0 431.3C427.7 431.0 428.3 430.8 429.0 430.5C429.7 430.2 430.3 430.0 431.0 429.7C431.7 429.4 432.3 429.1 433.0 428.8C433.7 428.5 434.3 428.2 435.0 427.9C435.7 427.6 436.3 427.3 437.0 426.9C437.7 426.6 438.3 426.3 439.0 425.9C439.7 425.6 440.3 425.2 441.0 424.9C441.7 424.5 442.3 424.2 443.0 423.8C443.7 423.5 444.3 423.1 445.0 422.7C445.7 422.4 446.3 422.0 447.0 421.6C447.7 421.3 448.3 420.9 449.0 420.5C449.7 420.1 450.3 419.6 451.0 419.2C451.7 418.8 452.3 418.3 453.0 417.8C453.7 417.3 454.3 416.8 455.0 416.3C455.7 415.8 456.3 415.2 457.0 414.7C457.7 414.1 458.3 413.5 459.0 412.9C459.7 412.3 460.3 411.7 461.0 411.0C461.7 410.4 462.3 409.7 463.0 409.0C463.7 408.3 464.3 407.6 465.0 406.8C465.7 406.0 466.3 405.2 467.0 404.4C467.7 403.6 468.3 402.8 469.0 401.9C469.7 401.0 470.3 400.2 471.0 399.3C471.7 398.4 472.3 397.6 473.0 396.7C473.7 395.8 474.3 394.9 475.0 394.0C475.7 393.1 476.3 392.2 477.0 391.2C477.7 390.3 478.3 389.4 479.0 388.4C479.7 387.4 480.3 386.4 481.0 385.3C481.7 384.3 482.3 383.1 483.0 381.9C483.7 380.8 484.3 379.5 485.0 378.1C485.7 376.8 486.3 375.4 487.0 373.9C487.7 372.5 488.3 370.9 489.0 369.4C489.7 367.8 490.3 366.2 491.0 364.8C491.7 363.3 492.3 361.8 493.0 360.4C493.7 359.1 494.3 357.8 495.0 356.5C495.7 355.2 496.3 354.0 497.0 352.8C497.7 351.6 498.3 350.5 499.0 349.3C499.7 348.2 500.3 347.1 501.0 346.0C501.7 344.9 502.3 343.9 503.0 343.0C503.7 342.0 504.3 341.1 505.0 340.2C505.7 339.3 506.3 338.5 507.0 337.8C507.7 337.0 508.3 336.3 509.0 335.7C509.7 335.0 510.3 334.4 511.0 334.0C511.7 333.5 512.3 333.1 513.0 332.7C513.7 332.4 514.3 332.1 515.0 331.9C515.7 331.7 516.3 331.5 517.0 331.4C517.7 331.3 518.3 331.3 519.0 331.3C519.7 331.4 520.3 331.5 521.0 331.7C521.7 331.8 522.3 332.1 523.0 332.4C523.7 332.7 524.3 333.1 525.0 333.6C525.7 334.1 526.3 334.7 527.0 335.3C527.7 335.9 528.3 336.6 529.0 337.4C529.7 338.1 530.3 338.9 531.0 339.7C531.7 340.5 532.3 341.4 533.0 342.3C533.7 343.2 534.3 344.1 535.0 345.1C535.7 346.1 536.3 347.1 537.0 348.1C537.7 349.1 538.3 350.1 539.0 351.0C539.7 352.0 540.3 352.9 541.0 353.8C541.7 354.7 542.3 355.6 543.0 356.5C543.7 357.4 544.3 358.3 545.0 359.1C545.7 359.9 546.3 360.8 547.0 361.6C547.7 362.4 548.3 363.2 549.0 364.0C549.7 364.7 550.3 365.5 551.0 366.2C551.7 366.9 552.3 367.7 553.0 368.3C553.7 369.0 554.3 369.7 555.0 370.3C555.7 371.0 556.3 371.6 557.0 372.2C557.7 372.8 558.3 373.4 559.0 374.0C559.7 374.6 560.3 375.2 561.0 375.8C561.7 376.4 562.3 377.0 563.0 377.6C563.7 378.2 564.3 378.8 565.0 379.4C565.7 380.0 566.3 380.6 567.0 381.2C567.7 381.9 568.3 382.5 569.0 383.2C569.7 383.8 570.3 384.5 571.0 385.2C571.7 385.8 572.3 386.5 573.0 387.2C573.7 387.9 574.3 388.5 575.0 389.2C575.7 389.9 576.3 390.6 577.0 391.2C577.7 391.9 578.3 392.6 579.0 393.2C579.7 393.9 580.3 394.5 581.0 395.2C581.7 395.8 582.3 396.4 583.0 397.0C583.7 397.6 584.3 398.2 585.0 398.8C585.7 399.4 586.3 400.0 587.0 400.6C587.7 401.2 588.3 401.8 589.0 402.4C589.7 403.1 590.3 403.7 591.0 404.3C591.7 404.9 592.3 405.6 593.0 406.2C593.7 406.8 594.3 407.4 595.0 408.0C595.7 408.6 596.3 409.2 597.0 409.7C597.7 410.3 598.3 410.9 599.0 411.4C599.7 412.0 600.3 412.5 601.0 413.1C601.7 413.6 602.3 414.2 603.0 414.8C603.7 415.3 604.3 415.9 605.0 416.5C605.7 417.0 606.3 417.6 607.0 418.1C607.7 418.7 608.3 419.3 609.0 419.8C609.7 420.4 610.3 420.9 611.0 421.5C611.7 422.0 612.3 422.6 613.0 423.1C613.7 423.7 614.3 424.2 615.0 424.8C615.7 425.4 616.3 425.9 617.0 426.5C617.7 427.0 618.3 427.6 619.0 428.2C619.7 428.7 620.3 429.3 621.0 429.8C621.7 430.3 622.3 430.8 623.0 431.3C623.7 431.8 624.3 432.3 625.0 432.7C625.7 433.1 626.3 433.5 627.0 433.9C627.7 434.2 628.3 434.4 629.0 434.6C629.7 434.9 630.3 435.0 631.0 435.2C631.7 435.3 632.3 435.4 633.0 435.5C633.7 435.6 634.3 435.7 635.0 435.8C635.7 435.9 636.3 435.9 637.0 436.0C637.7 436.1 638.3 436.1 639.0 436.2C639.7 436.3 640.3 436.3 641.0 436.4C641.7 436.4 642.3 436.5 643.0 436.6C643.7 436.6 644.3 436.7 645.0 436.7C645.7 436.8 646.5 436.8 647.0 436.9C647.5 436.9 647.8 436.9 648.0 436.9"/>
<path class="ln ds" d="M520.6 441.8 V313.0"/>
<path class="ln" d="M557.7 441.8 V313.0"/>
</g>
<rect class="ln" x="399.4" y="313.0" width="257.2" height="128.8"/>
<path class="ln" d="M430.5 441.8v7.1M478.0 441.8v7.1M525.5 441.8v7.1M573.0 441.8v7.1M620.5 441.8v7.1M399.4 437.2h-7.4M399.4 416.1h-7.4M399.4 395.1h-7.4M399.4 374.0h-7.4M399.4 352.9h-7.4M399.4 331.8h-7.4"/>
<text x="430.5" y="467.7" text-anchor="middle">0.0</text>
<text x="478.0" y="467.7" text-anchor="middle">0.2</text>
<text x="525.5" y="467.7" text-anchor="middle">0.4</text>
<text x="573.0" y="467.7" text-anchor="middle">0.6</text>
<text x="620.5" y="467.7" text-anchor="middle">0.8</text>
<text transform="translate(382.5 437.2) rotate(-90)" text-anchor="middle">0.0</text>
<text transform="translate(382.5 395.1) rotate(-90)" text-anchor="middle">1.0</text>
<text transform="translate(382.5 352.9) rotate(-90)" text-anchor="middle">2.0</text>
<text x="528.0" y="495.9" text-anchor="middle">Proportion.P</text>
<text transform="translate(354.0 377.4) rotate(-90)" text-anchor="middle">Density</text>
</g>
</svg>
</body>
</html>
